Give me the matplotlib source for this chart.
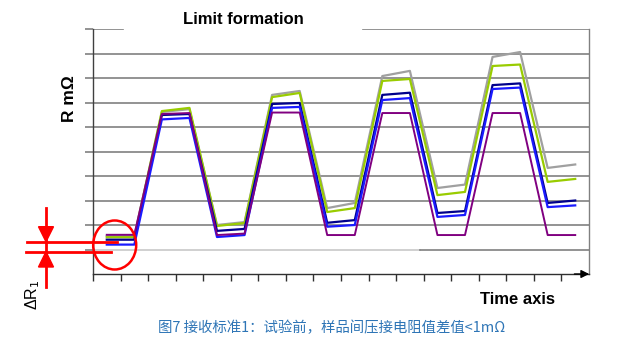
import matplotlib
matplotlib.use("Agg")
import matplotlib.pyplot as plt
from matplotlib.patches import Ellipse, Polygon
from matplotlib.lines import Line2D

# ---- data ----
time_points = [0.5, 1.5, 2.5, 3.5, 4.5, 5.5, 6.5, 7.5, 8.5, 9.5,
               10.5, 11.5, 12.5, 13.5, 14.5, 15.5, 16.5, 17.5]
gray_vals = [1.55, 1.55, 6.61, 6.73, 2.00, 2.12, 7.31, 7.47, 2.69, 2.90,
             8.08, 8.29, 3.51, 3.65, 8.86, 9.06, 4.33, 4.47]
green_vals = [1.50, 1.50, 6.65, 6.78, 1.96, 2.08, 7.22, 7.39, 2.53, 2.69,
              7.88, 7.96, 3.22, 3.35, 8.49, 8.55, 3.76, 3.88]
navy_vals = [1.40, 1.40, 6.49, 6.53, 1.76, 1.84, 6.94, 6.98, 2.09, 2.20,
             7.31, 7.40, 2.49, 2.57, 7.71, 7.78, 2.90, 3.00]
blue_vals = [1.20, 1.20, 6.31, 6.37, 1.51, 1.59, 6.78, 6.82, 1.93, 2.00,
             7.10, 7.18, 2.33, 2.41, 7.55, 7.61, 2.73, 2.80]
purple_vals = [1.60, 1.60, 6.53, 6.57, 1.59, 1.65, 6.59, 6.59, 1.59, 1.59,
               6.57, 6.57, 1.59, 1.59, 6.57, 6.57, 1.59, 1.59]
grid_levels = [1, 2, 3, 4, 5, 6, 7, 8, 9, 10]
x_ticks = list(range(18))

title_text = "Limit formation"
ylabel_text = "R mΩ"
xlabel_text = "Time axis"
caption_text = "图7 接收标准1：试验前，样品间压接电阻值差值<1mΩ"

W, H = 635, 345
fig = plt.figure(figsize=(W / 100, H / 100), dpi=100)
fig.patch.set_facecolor("white")

def fx(px):
    return px / W

def fy(py):
    return 1 - py / H

ax = fig.add_axes([fx(93), fy(274), fx(589) - fx(93), fy(29) - fy(274)])
ax.set_xlim(0, 18)
ax.set_ylim(0, 10)

# grid lines
for g in grid_levels:
    if g == 10:
        ax.axhline(g, xmin=0, xmax=0.06, color="#808080", lw=1.2, zorder=1)
        ax.axhline(g, xmin=0.544, xmax=1, color="#808080", lw=1.2, zorder=1)
    elif g == 1:
        ax.axhline(g, xmin=0, xmax=0.66, color="#C8C8C8", lw=1.2, zorder=1)
        ax.axhline(g, xmin=0.66, xmax=1, color="#808080", lw=1.2, zorder=1)
    else:
        ax.axhline(g, color="#808080", lw=1.2, zorder=1)

# series
ax.plot(time_points, gray_vals, color="#A0A0A0", lw=1.6, zorder=3)
ax.plot(time_points, green_vals, color="#99CC00", lw=1.6, zorder=4)
ax.plot(time_points, navy_vals, color="#00008B", lw=1.6, zorder=5)
ax.plot(time_points, blue_vals, color="#1A1AFF", lw=1.6, zorder=6)
ax.plot(time_points, purple_vals, color="#800080", lw=1.4, zorder=7)

# spines and ticks
ax.spines["top"].set_visible(False)
ax.spines["left"].set_color("#404040")
ax.spines["left"].set_linewidth(1.0)
ax.spines["right"].set_color("#808080")
ax.spines["right"].set_linewidth(1.0)
ax.spines["bottom"].set_color("#303030")
ax.spines["bottom"].set_linewidth(1.0)
ax.set_yticks(grid_levels)
ax.set_xticks(x_ticks)
ax.tick_params(axis="y", length=6, color="#808080", width=1.2, labelleft=False)
ax.tick_params(axis="x", length=5, color="#303030", width=1.0, labelbottom=False, direction="out")
ax.annotate("", xy=(1.006, 0), xytext=(0.965, 0), xycoords="axes fraction",
            arrowprops=dict(arrowstyle="-|>", color="black", lw=1.0, mutation_scale=12),
            annotation_clip=False)

# texts
fig.text(fx(243.5), fy(19), title_text, ha="center", va="center",
         fontsize=12, fontweight="bold", family="Liberation Sans")
fig.text(fx(69.5), fy(99), ylabel_text, ha="center", va="center", rotation=90,
         fontsize=12.5, fontweight="bold", family=["Liberation Sans", "DejaVu Sans"])
fig.text(fx(518), fy(299), xlabel_text, ha="center", va="center",
         fontsize=12, fontweight="bold", family="Liberation Sans")
fig.text(fx(332), fy(328), caption_text, ha="center", va="center",
         fontsize=10.4, color="#2E75B6", family=["Noto Sans CJK SC", "DejaVu Sans"])

# red delta-R annotation (figure pixels)
red = "#FF0000"
tr = fig.transFigure
fig.add_artist(Ellipse((fx(114.7), fy(245)), fx(43), 49 / H, fill=False,
                       edgecolor=red, lw=1.8, transform=tr))
fig.add_artist(Line2D([fx(27), fx(117)], [fy(241.7), fy(241.7)], color=red, lw=2.0, transform=tr))
fig.add_artist(Line2D([fx(26), fx(111)], [fy(251.7), fy(251.7)], color=red, lw=2.0, transform=tr))
fig.add_artist(Line2D([fx(46), fx(46)], [fy(208), fy(286.7)], color=red, lw=2.0, transform=tr))
fig.add_artist(Polygon([(fx(38.5), fy(226.7)), (fx(53.5), fy(226.7)), (fx(46), fy(241.7))],
                       closed=True, color=red, transform=tr))
fig.add_artist(Polygon([(fx(38.5), fy(267)), (fx(53.5), fy(267)), (fx(46), fy(251.7))],
                       closed=True, color=red, transform=tr))
fig.text(fx(33), fy(295), "ΔR$_1$", ha="center", va="center", rotation=90,
         fontsize=11.5, family=["Liberation Sans", "DejaVu Sans"])

fig.savefig("out.png", dpi=100, facecolor="white")
